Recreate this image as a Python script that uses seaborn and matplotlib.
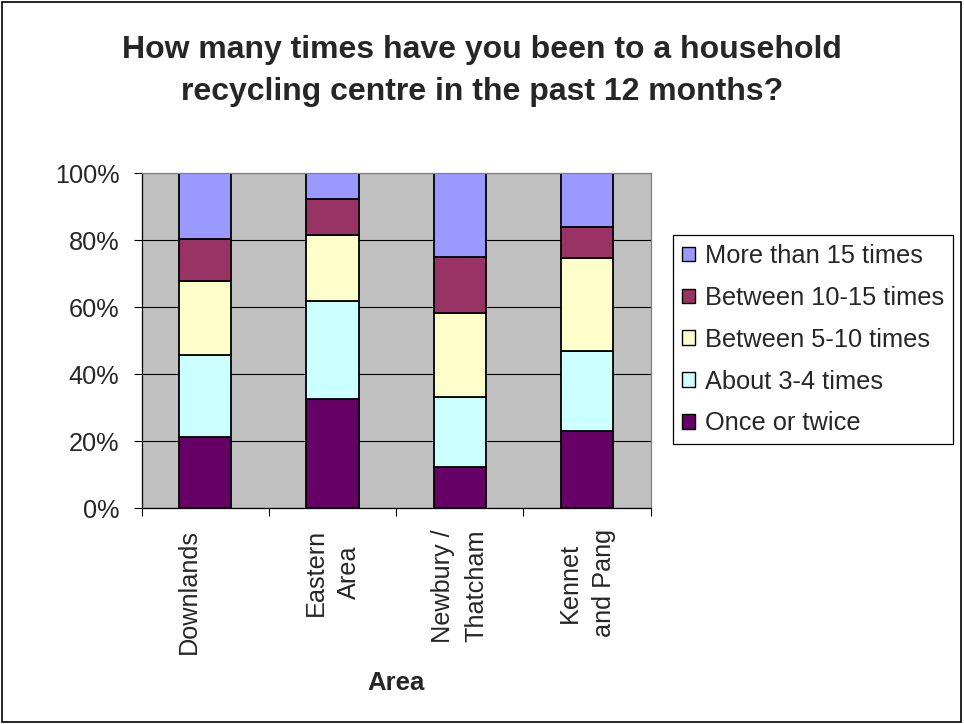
import matplotlib
matplotlib.use("Agg")
import matplotlib.pyplot as plt
import matplotlib.patches as mpatches
from matplotlib.ticker import FixedLocator
import seaborn as sns
import numpy as np

areas = ["Downlands\n ", "Eastern\nArea", "Newbury /\nThatcham", "Kennet\nand Pang"]
series = ["Once or twice", "About 3-4 times", "Between 5-10 times",
          "Between 10-15 times", "More than 15 times"]
once_twice = [21.4, 32.7, 12.4, 23.2]
about_3_4 = [24.4, 29.2, 20.8, 23.8]
between_5_10 = [22.1, 19.7, 25.1, 27.8]
between_10_15 = [12.5, 10.6, 16.6, 9.3]
more_than_15 = [19.6, 7.8, 25.1, 15.9]
colors = ["#660066", "#CCFFFF", "#FFFFCC", "#993366", "#9999FF"]

sns.set_style("white")
plt.rcParams["font.family"] = ["Liberation Sans", "DejaVu Sans"]

fig = plt.figure(figsize=(9.64, 7.24), dpi=100)
ax = fig.add_axes([141.7 / 964, 1 - 508.3 / 724, 509 / 964, 335 / 724])

values = [once_twice, about_3_4, between_5_10, between_10_15, more_than_15]
bottom = np.zeros(len(areas))
for name, vals, col in zip(series, values, colors):
    v = np.array(vals) / 100.0
    sns.barplot(x=areas, y=v, bottom=bottom, color=col, saturation=1,
                edgecolor="black", linewidth=1.3, width=0.41,
                errorbar=None, ax=ax)
    bottom = bottom + v

ax.set_facecolor("#C0C0C0")
ax.set_xlim(-0.5, 3.5)
ax.set_ylim(0, 1)
ax.set_yticks(np.arange(0, 1.01, 0.2))
ax.set_yticklabels([f"{int(round(t * 100))}%" for t in np.arange(0, 1.01, 0.2)])
ax.yaxis.grid(True, color="black", linewidth=0.8)
ax.set_axisbelow(True)

ax.tick_params(axis="y", direction="out", length=6, width=0.8, color="black",
               labelsize=18.2, pad=10, left=True)
ax.tick_params(axis="x", which="major", length=0, labelsize=18.2, pad=15,
               labelrotation=90)
ax.xaxis.set_minor_locator(FixedLocator([-0.5, 0.5, 1.5, 2.5, 3.5]))
ax.tick_params(axis="x", which="minor", direction="out", length=6, width=0.8,
               color="black", bottom=True)
for lab in ax.get_xticklabels():
    lab.set_linespacing(1.5)
    lab.set_multialignment("center")

for side in ["left", "bottom"]:
    ax.spines[side].set_color("black")
    ax.spines[side].set_linewidth(0.9)
for side in ["top", "right"]:
    ax.spines[side].set_visible(True)
    ax.spines[side].set_color("#808080")
    ax.spines[side].set_linewidth(0.9)

ax.set_ylabel("")
ax.set_xlabel("Area", fontsize=18.5, fontweight="bold", labelpad=12)

handles = [mpatches.Patch(facecolor=c, edgecolor="black", linewidth=1.0, label=s)
           for s, c in zip(series, colors)][::-1]
leg = ax.legend(handles=handles, loc="upper left",
                bbox_to_anchor=(673 / 964, 1 - 235 / 724),
                bbox_transform=fig.transFigure, borderaxespad=0,
                fontsize=18.3, frameon=True, fancybox=False, framealpha=1,
                edgecolor="black", handlelength=0.5, handleheight=0.5,
                handletextpad=0.4, labelspacing=0.7, borderpad=0.36)
leg.get_frame().set_linewidth(0.9)

fig.text(0.5, 0.902, "How many times have you been to a household\nrecycling centre in the past 12 months?",
         ha="center", va="center", fontsize=23, fontweight="bold", linespacing=1.5)

fig.patches.append(mpatches.Rectangle((0.002, 0.003), 0.995, 0.994, transform=fig.transFigure,
                                      fill=False, edgecolor="black", linewidth=1.2))

plt.savefig("out.png", dpi=100)
plt.close()
